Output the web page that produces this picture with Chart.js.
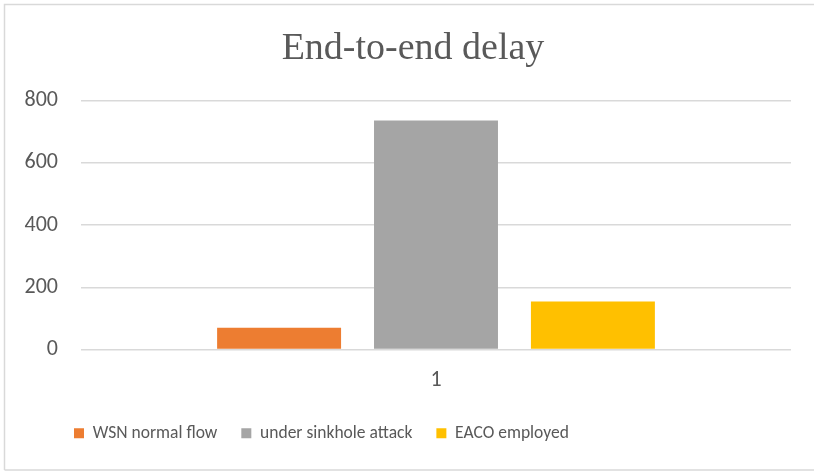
<!DOCTYPE html>
<html>
<head>
<meta charset="utf-8">
<script src="https://cdn.jsdelivr.net/npm/chart.js@4"></script>
<style>
  html, body { margin: 0; padding: 0; background: #ffffff; }
  #wrap { position: relative; width: 814px; height: 471px; }
  canvas { display: block; }
</style>
</head>
<body>
<div id="wrap"><canvas id="chart" width="814" height="471"></canvas></div>
<script>
// End-to-end delay for the three network scenarios
const categories = ['1'];
const seriesNames = ['WSN normal flow', 'under sinkhole attack', 'EACO employed'];
const normalFlow = [70];
const sinkholeAttack = [736];
const eacoEmployed = [154];
const yTicks = [0, 200, 400, 600, 800];

const seriesColors = ['#ED7D31', '#A5A5A5', '#FFC000'];
const bodyFont = 'Carlito, Calibri, Lato, sans-serif';
const textColor = '#595959';

// Light frame around the chart (left, top and bottom edges)
const framePlugin = {
  id: 'frame',
  beforeDraw(chart) {
    const ctx = chart.ctx;
    ctx.save();
    ctx.fillStyle = '#ffffff';
    ctx.fillRect(0, 0, chart.width, chart.height);
    ctx.strokeStyle = '#d9d9d9';
    ctx.lineWidth = 1.5;
    ctx.beginPath();
    ctx.moveTo(4.5, chart.height - 1);
    ctx.lineTo(4.5, 4.5);
    ctx.lineTo(chart.width, 4.5);
    ctx.moveTo(4.5, chart.height - 1);
    ctx.lineTo(chart.width, chart.height - 1);
    ctx.stroke();
    ctx.restore();
  }
};

// Legend row starts a little in from the frame; title is centred on the frame
const blockOffsetPlugin = {
  id: 'blockOffset',
  afterLayout(chart) {
    if (chart.legend) {
      chart.legend.left = 50;
    }
    if (chart.titleBlock) {
      chart.titleBlock.left = 35;
    }
  }
};

new Chart(document.getElementById('chart'), {
  type: 'bar',
  data: {
    labels: categories,
    datasets: [
      { label: seriesNames[0], data: normalFlow, backgroundColor: seriesColors[0] },
      { label: seriesNames[1], data: sinkholeAttack, backgroundColor: seriesColors[1] },
      { label: seriesNames[2], data: eacoEmployed, backgroundColor: seriesColors[2] }
    ]
  },
  options: {
    responsive: false,
    animation: false,
    devicePixelRatio: 1,
    categoryPercentage: 0.663,
    barPercentage: 0.79,
    layout: { padding: { left: 0, right: 23, top: 0, bottom: 19 } },
    plugins: {
      title: {
        display: true,
        text: 'End-to-end delay',
        color: textColor,
        font: { family: '"Liberation Serif", "Times New Roman", serif', size: 38, weight: 'normal', lineHeight: 1.2 },
        padding: { top: 26, bottom: 29 }
      },
      legend: {
        position: 'bottom',
        align: 'start',
        labels: {
          boxWidth: 10,
          boxHeight: 10,
          padding: 24,
          color: textColor,
          font: { family: bodyFont, size: 17.5 }
        }
      },
      tooltip: { enabled: false }
    },
    scales: {
      x: {
        grid: { display: false },
        border: { display: false },
        ticks: { color: textColor, font: { family: bodyFont, size: 22 }, padding: 10 },
        afterFit(scale) { scale.height = 51; }
      },
      y: {
        min: 0,
        max: 800,
        afterBuildTicks(scale) { scale.ticks = yTicks.map(v => ({ value: v })); },
        grid: { color: '#d9d9d9', lineWidth: 1.5, drawTicks: false },
        border: { display: false },
        ticks: { color: textColor, font: { family: bodyFont, size: 22 }, padding: 23 },
        afterFit(scale) { scale.width = 81; }
      }
    }
  },
  plugins: [framePlugin, blockOffsetPlugin]
});
</script>
</body>
</html>
